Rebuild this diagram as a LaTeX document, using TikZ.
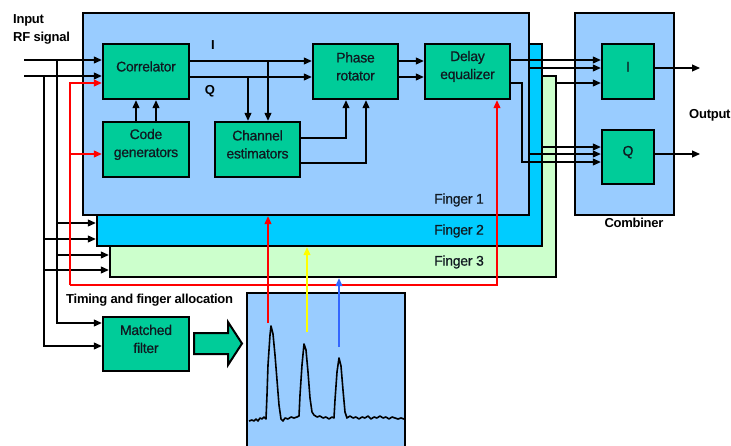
\documentclass[tikz,border=0pt]{standalone}
\usepackage{fontspec}
\setmainfont[LetterSpace=-2]{Liberation Sans}
\newfontfamily\medfont[LetterSpace=-2, FakeBold=0.7]{Liberation Sans}
\usetikzlibrary{arrows.meta,fit}
\definecolor{fone}{HTML}{99CCFF}
\definecolor{ftwo}{HTML}{00CCFF}
\definecolor{fthree}{HTML}{CCFFCC}
\definecolor{gbox}{HTML}{00CC99}
\definecolor{bluearr}{HTML}{3366FF}
\definecolor{yelarr}{HTML}{FFFF00}
\definecolor{txtc}{HTML}{101820}
\begin{document}
\begin{tikzpicture}[x=1pt,y=-1pt,
  blk/.style={draw, line width=2.4pt, fill=gbox, inner sep=0pt, align=center, text=txtc, font=\medfont\fontsize{14}{18}\selectfont},
  panel/.style={draw, line width=2.4pt, inner sep=0pt},
  ln/.style={line width=1.1pt},
  arr/.style={ln, -{Triangle[length=8pt,width=7pt]}},
  lab/.style={font=\bfseries\fontsize{13}{18}\selectfont, inner sep=0pt},
  flab/.style={font=\medfont\fontsize{14}{18}\selectfont, text=txtc, inner sep=0pt, anchor=west}]
\clip (0,0) rectangle (731,445);
\fill[white] (0,0) rectangle (731,445);

% finger panels and combiner
\node[panel, fill=fthree, fit={(110,76)(556,277)}] (f3) {};
\node[panel, fill=ftwo, fit={(97,44)(542,246)}] (f2) {};
\node[panel, fill=fone, fit={(83,13)(529,215)}] (f1) {};
\node[panel, fill=fone, fit={(575,13)(674,215)}] (comb) {};
\node[flab] at (434,200) {Finger 1};
\node[flab] at (434,231) {Finger 2};
\node[flab] at (434,262) {Finger 3};

% blocks
\node[blk, fit={(103,44)(189,99)}] (corr) {Correlator};
\node[blk, fit={(103,122)(189,177)}] (code) {Code\\generators};
\node[blk, fit={(215,122)(300,177)}] (chan) {Channel\\estimators};
\node[blk, fit={(313,44)(398,99)}] (phase) {Phase\\rotator};
\node[blk, fit={(425,44)(510,99)}] (delay) {Delay\\equalizer};
\node[blk, fit={(602,44)(654,99)}] (cI) {I};
\node[blk, fit={(602,130)(654,184)}] (cQ) {Q};
\node[blk, fit={(103,317)(189,371)}] (mf) {Matched\\filter};
\node[panel, fill=fone, fit={(247,293)(405,455)}] (plot) {};

% labels
\node[lab, anchor=north west, align=left] (inlab) at (13,14) {Input\\RF signal};
\node[lab, anchor=west] (outlab) at (689,115) {Output};
\node[lab] (comblab) at (634,223) {Combiner};
\node[lab, anchor=west] (tlab) at (66,300) {Timing and finger allocation};
\node[lab] (ilab) at (213,45) {I};
\node[lab] (qlab) at (210,91) {Q};

% inputs
\coordinate (in1) at (24,60);
\coordinate (in2) at (24,76);
\draw[arr] (in1) -- (corr.west |- in1);
\draw[arr] (in2) -- (corr.west |- in2);
\draw[arr] (57,60) |- (mf.west |- 0,323);
\draw[arr] (44,76) |- (mf.west |- 0,346);
\draw[arr] (57,223) -- (f2.west |- 0,223);
\draw[arr] (44,239) -- (f2.west |- 0,239);
\draw[arr] (57,255) -- (f3.west |- 0,255);
\draw[arr] (44,270) -- (f3.west |- 0,270);

% red timing line
\draw[arr, red] (70,285) |- (corr.west |- 0,83);
\draw[arr, red] (70,154) -- (code.west |- 0,154);
\draw[arr, red] (70,285) -- (497,285) -- (delay.south -| 497,0);

% internal connections
\draw[arr] (corr.east |- 0,61) -- (phase.west |- 0,61);
\draw[arr] (corr.east |- 0,77) -- (phase.west |- 0,77);
\draw[arr] (268,61) -- (chan.north -| 268,0);
\draw[arr] (248,77) -- (chan.north -| 248,0);
\draw[arr] (chan.east |- 0,138) -| (phase.south -| 346,0);
\draw[arr] (chan.east |- 0,163) -| (phase.south -| 366,0);
\draw[arr] (code.north -| 136,0) -- (corr.south -| 136,0);
\draw[arr] (code.north -| 156,0) -- (corr.south -| 156,0);
\draw[arr] (phase.east |- 0,61) -- (delay.west |- 0,61);
\draw[arr] (phase.east |- 0,77) -- (delay.west |- 0,77);

% to combiner
\draw[arr] (delay.east |- 0,60) -- (cI.west |- 0,60);
\draw[arr] (f1.east |- 0,68) -- (cI.west |- 0,68);
\draw[arr] (f3.east |- 0,83) -- (cI.west |- 0,83);
\draw[arr] (f2.east |- 0,147) -- (cQ.west |- 0,147);
\draw[arr] (f1.east |- 0,154) -- (cQ.west |- 0,154);
\draw[arr] (delay.east |- 0,83) -- (522,83) -- (522,162) -- (cQ.west |- 0,162);
\coordinate (oI) at (700,68);
\coordinate (oQ) at (700,154);
\draw[arr] (cI.east |- oI) -- (oI);
\draw[arr] (cQ.east |- oQ) -- (oQ);

% big arrow
\draw[line width=2pt, fill=gbox, line join=miter] (194,333) -- (228,333) -- (228,322) -- (242,343.5) -- (228,365) -- (228,354) -- (194,354) -- cycle;

% plot curve
\draw[line width=1.6pt, line join=round] (249,421) -- (252,420) -- (254,421) -- (256,419) -- (258,421) -- (260,418) -- (262,419) -- (264,417) -- (266,419)
 -- (267,395) -- (268,365) -- (270,335) -- (271,326) -- (273,334) -- (275,355) -- (277,380) -- (279,405) -- (281,419) -- (283,421) -- (285,418) -- (288,419) -- (291,417) -- (294,418) -- (297,417) -- (299,416)
 -- (300,395) -- (302,365) -- (304,344) -- (306,350) -- (308,372) -- (310,398) -- (312,412) -- (314,415) -- (317,417) -- (320,416) -- (323,418) -- (326,417) -- (329,419) -- (332,417) -- (334,418)
 -- (335,400) -- (337,372) -- (339,358) -- (341,366) -- (343,390) -- (345,412) -- (347,418) -- (350,416) -- (353,418) -- (356,417) -- (359,419) -- (362,417) -- (365,418) -- (368,416) -- (371,419) -- (374,417) -- (377,418) -- (380,416) -- (383,418) -- (386,417) -- (389,419) -- (392,417) -- (395,418) -- (398,419) -- (401,418) -- (404,419);

% finger allocation arrows
\draw[arr, red] (268,323) -- (f1.south -| 268,0);
\draw[arr, yelarr] (307,332) -- (f2.south -| 307,0);
\draw[arr, bluearr] (339,347) -- (f3.south -| 339,0);
\end{tikzpicture}
\end{document}
